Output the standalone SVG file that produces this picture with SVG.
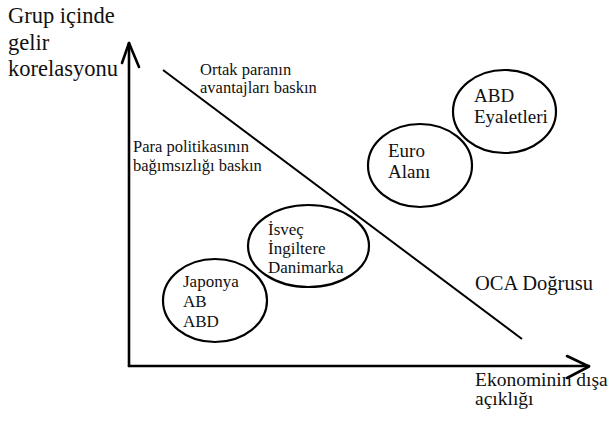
<svg xmlns="http://www.w3.org/2000/svg" width="611" height="425" viewBox="0 0 611 425" font-family="'Liberation Serif', 'DejaVu Serif', serif">
<style>
text{font-family:'Liberation Serif','DejaVu Serif',serif;fill:#111}
.ax{fill:none;stroke:#000;stroke-width:2.6;stroke-linecap:round;stroke-linejoin:round}
.ln{fill:none;stroke:#000;stroke-width:2}
.el{fill:none;stroke:#000;stroke-width:2.2}
.big{font-size:22.5px}
.mid{font-size:16.5px}
.nd{font-size:17px}
</style>
<rect width="611" height="425" fill="#fff"/>
<g id="connectors">
<path class="ax" d="M129,366 V43"/>
<path class="ax" d="M122,63 L129,43 L139,67"/>
<path class="ax" d="M129,366 H589"/>
<path class="ax" d="M567,356 L589,366.5 L567,378"/>
<path class="ln" d="M163,70 L522,339"/>
</g>
<g id="y-label"><text class="big" x="8" y="23">Grup içinde</text><text class="big" x="8" y="50">gelir</text><text class="big" x="8" y="76">korelasyonu</text></g>
<g id="x-label"><text font-size="19.5" x="475" y="386">Ekonominin dışa</text><text font-size="19.5" x="475" y="405">açıklığı</text></g>
<g id="ortak"><text class="mid" x="200" y="75">Ortak paranın</text><text class="mid" x="200" y="93">avantajları baskın</text></g>
<g id="para"><text class="mid" x="133" y="152">Para politikasının</text><text class="mid" x="133" y="171">bağımsızlığı baskın</text></g>
<g id="oca"><text font-size="20.5" x="475" y="290">OCA Doğrusu</text></g>
<g id="abd-eyaletleri"><ellipse class="el" cx="504.5" cy="111.5" rx="51.5" ry="41.5"/><text font-size="19" x="474" y="102">ABD</text><text font-size="19" x="474" y="123">Eyaletleri</text></g>
<g id="euro-alani"><ellipse class="el" cx="420" cy="165.5" rx="52" ry="41.5"/><text font-size="19" x="388" y="157">Euro</text><text font-size="19" x="388" y="178">Alanı</text></g>
<g id="isvec"><ellipse class="el" cx="308.5" cy="246" rx="60.5" ry="41"/><text class="nd" x="268" y="235">İsveç</text><text class="nd" x="268" y="254">İngiltere</text><text class="nd" x="268" y="273">Danimarka</text></g>
<g id="japonya"><ellipse class="el" cx="215" cy="300.5" rx="52" ry="41.5"/><text class="nd" x="183" y="287">Japonya</text><text class="nd" x="183" y="307">AB</text><text class="nd" x="183" y="327">ABD</text></g>
</svg>
